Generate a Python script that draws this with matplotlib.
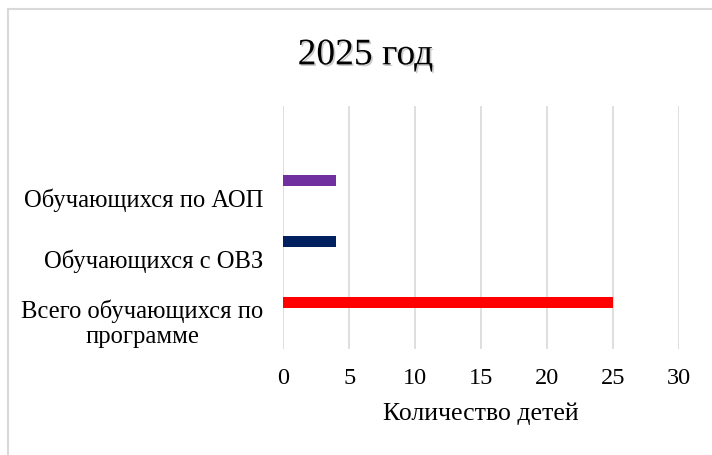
import matplotlib
matplotlib.use("Agg")
import matplotlib.pyplot as plt
import matplotlib.patheffects as pe
from matplotlib.patches import Rectangle

plt.rcParams['font.family'] = ['Liberation Serif', 'DejaVu Serif']

# данные
categories = ["Всего обучающихся по\nпрограмме", "Обучающихся с ОВЗ", "Обучающихся по АОП", ""]
values = [25, 4, 4]
colors = ["#FF0000", "#002060", "#7030A0"]
xticks = [0, 5, 10, 15, 20, 25, 30]

fig = plt.figure(figsize=(7.12, 4.56), dpi=100)
ax = fig.add_axes([0.398, 0.2325, 0.556, 0.533])

# рамка вокруг диаграммы
fig.patches.append(Rectangle((8 / 712, -0.1), 1.2, 1 - 10 / 456 + 0.1,
                             transform=fig.transFigure, fill=False,
                             edgecolor="#d9d9d9", linewidth=1.5))

pos = list(range(len(values)))
ax.barh([p + 0.27 for p in pos], values, height=0.18, color=colors, zorder=3)

ax.set_xlim(0, 30)
ax.set_ylim(-0.5, len(categories) - 0.5)
ax.set_xticks(xticks)
ax.set_xticklabels([str(t) for t in xticks], fontsize=17.5)
ax.set_yticks(range(len(categories)))
ax.set_yticklabels(categories, fontsize=17.7, ha="right", multialignment="center")
ax.tick_params(axis="both", length=0)
ax.tick_params(axis="y", pad=14.5)
ax.tick_params(axis="x", pad=13)

ax.grid(axis="x", color="#d9d9d9", linewidth=1.2, zorder=0)
for s in ax.spines.values():
    s.set_visible(False)

ax.set_xlabel("Количество детей", fontsize=18.5, labelpad=10)

fig.text(0.513, 0.877, "2025 год", fontsize=27, ha="center", va="center",
         path_effects=[pe.SimplePatchShadow(offset=(1.2, -1.2), alpha=0.2), pe.Normal()])

fig.savefig("out.png", dpi=100)
